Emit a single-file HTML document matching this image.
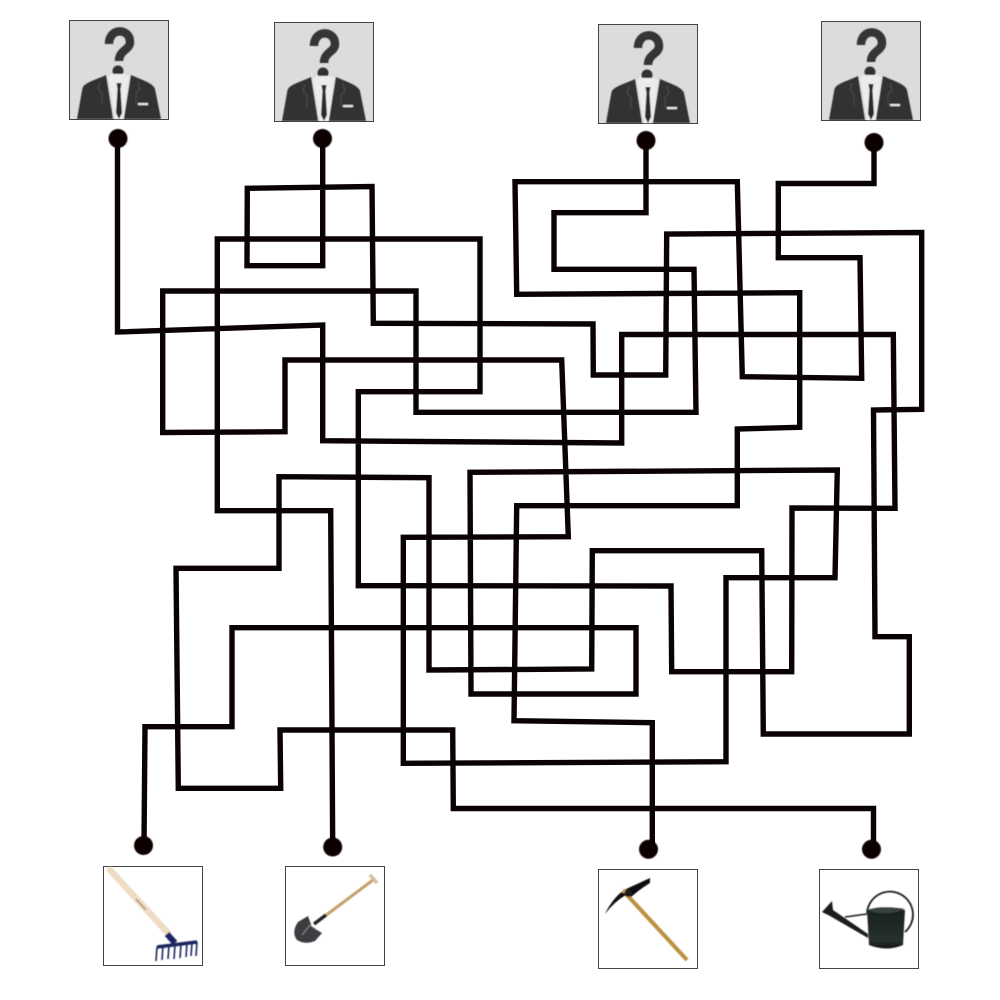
<!DOCTYPE html>
<html><head><meta charset="utf-8"><style>
html,body{margin:0;padding:0;background:#fff}
svg{display:block}
</style></head><body>
<svg width="1000" height="1000" viewBox="0 0 1000 1000" xmlns="http://www.w3.org/2000/svg">
<defs>
<filter id="b" x="-20%" y="-20%" width="140%" height="140%"><feGaussianBlur stdDeviation="0.6"/></filter>
<linearGradient id="can" x1="0" y1="0" x2="0" y2="1"><stop offset="0" stop-color="#1a2220"/><stop offset="0.8" stop-color="#27302d"/><stop offset="1" stop-color="#111"/></linearGradient>
<g id="person">
<rect x="0.500" y="0.500" width="99" height="99" fill="#dcdcdc" stroke="#444" stroke-width="1"/>
<g filter="url(#b)">
<path d="M40 24C40 7 61 8 61 22C61 30 50 30 50 41" fill="none" stroke="#363636" stroke-width="8.500"/>
<circle cx="49" cy="51" r="5.500" fill="#333"/>
<path d="M8 99L13.500 68C16 62 27 60 37 55L44 99Z M92 99L86 69C84 63 73 60 62 55L55 99Z" fill="#333"/>
<path d="M39 56L46 99L54 99L60 56L55 54L44 54Z" fill="#ececec"/>
<path d="M47.500 63L52.500 63L51.500 69L53 93L50 99L47 93L48.500 69Z" fill="#2a2a2a"/>
<rect x="69" y="83" width="10" height="2.200" fill="#e8e8e8"/>
<path d="M31 62L29 69L33 73L33 85M69 62L71 69L67 73L67 85" fill="none" stroke="#5c5c5c" stroke-width="0.600"/>
</g>
</g>
</defs>

<use href="#person" x="69" y="20"/>
<use href="#person" x="274" y="22"/>
<use href="#person" x="598" y="24"/>
<use href="#person" x="821" y="21"/>

<g fill="#fff" stroke="#444" stroke-width="1">
<rect x="103.500" y="866.500" width="99" height="99"/>
<rect x="285.500" y="866.500" width="99" height="99"/>
<rect x="598.500" y="869.500" width="99" height="99"/>
<rect x="819.500" y="869.500" width="99" height="99"/>
</g>

<!-- rake -->
<g filter="url(#b)">
<path d="M110 870L168 933" stroke="#efdcc4" stroke-width="6.500" stroke-linecap="round" fill="none"/>
<path d="M136 899L146 910" stroke="#a89278" stroke-width="1.500" fill="none"/>
<path d="M167 934L175 943" stroke="#1d2560" stroke-width="6" fill="none"/>
<path d="M157 947L197 942" stroke="#1d2560" stroke-width="3.500" fill="none"/>
<path d="M157 947L156 961M163 946L162 960M169 945L168 959M175 945L174 959M181 944L180 958M187 943L186 957M192 943L191 956M197 942L196 956" stroke="#1d2560" stroke-width="1.600" fill="none"/>
</g>
<!-- shovel -->
<g filter="url(#b)">
<path d="M325 916L373 880" stroke="#c4a06c" stroke-width="3" fill="none"/>
<path d="M370 875L377 883" stroke="#d6bd98" stroke-width="3.500" fill="none"/>
<path d="M314 924L326 915" stroke="#222" stroke-width="3.500" fill="none"/>
<path d="M298 922L308 916L312 927L322 933L315 941Q305 945 297 940Q291 932 298 922Z" fill="#3a3d40"/>
<path d="M302 935L310 925L317 930" stroke="#9a9a9a" stroke-width="0.800" fill="none"/>
</g>
<!-- pickaxe -->
<g filter="url(#b)">
<path d="M627 895L687 960" stroke="#bb9040" stroke-width="4" fill="none"/>
<path d="M605 914Q612 899 624 890Q637 884 650 878L650 883Q640 889 631 897L626 895Q615 901 605 914Z" fill="#111"/>
<circle cx="628" cy="893" r="3.800" fill="#1d1d1d"/>
<path d="M623 893L625 889" stroke="#c19a50" stroke-width="2.500" fill="none"/>
</g>
<!-- watering can -->
<g filter="url(#b)">
<path d="M867 913A23 23 0 1 1 905 932" fill="none" stroke="#1b1f1e" stroke-width="1.800"/>
<path d="M867 910L905 910L903 945Q887 952 869 945Z" fill="url(#can)"/>
<path d="M867 910Q880 905 905 909Q885 917 867 910Z" fill="#39423f"/>
<path d="M822 912L832 901L833 910L868 934L868 938L830 916Z" fill="#1b1f1e"/>
<path d="M845 917L867 914" stroke="#1b1f1e" stroke-width="1.500" fill="none"/>
</g>

<g fill="none" stroke="#0a0204" stroke-width="5.400" stroke-linejoin="miter">
<polyline points="117.500,138 117.500,332 322.700,325 322.700,440.700 621.700,443 621.700,334.500 893.300,334.500 895,508.300 792,508 791.700,671.700 671.700,671.700 671,586 358.300,585.700 358.300,391.700 480,391.700 480,239 217.300,239 217.300,510.700 330.700,510.700 332.700,847"/>
<polyline points="322.700,138 322.700,265.700 247,265.700 247.300,188.300 372,186.500 373.300,323.300 593,324 593.300,375 665.700,375 666.700,234 921.700,232.500 921.700,409.300 873.500,410 875,636.700 909.300,636.700 909.300,734 763.300,734 761.700,550.700 592.300,550.700 591.700,669 429,670 429,477.700 279,476.700 279,568.300 176,568.300 178.300,788.300 280.700,788.300 280,730 452.700,730 453.300,808.500 873.500,808.500 873.500,849"/>
<polyline points="646,140 646,212.700 554,212.700 554,269.300 694,269.300 696,412.300 416,412.300 416,291 162.700,291 162.700,432.500 285,431.700 285,360 561.700,360 568.300,536.700 403.300,537.300 403.300,763.300 726,761.700 726,577.700 835,577.700 837.300,470 470,472.300 471,694 636,694 636,627.700 232,627.700 232,726.700 145,726.700 144,845"/>
<polyline points="874,142 874,183.500 778.300,183.500 778.300,257.700 860,257.700 861.700,378.300 742.300,376.700 737.300,181.700 515,181.700 516.700,294.300 799.700,292.700 799.700,427.300 737.300,429 737.300,505.700 516.700,505.700 514,720.700 652.300,722.700 652.300,849"/>
</g>

<g fill="#0a0204" filter="url(#b)">
<circle cx="118" cy="138.500" r="9.500"/>
<circle cx="322.500" cy="138.500" r="9.500"/>
<circle cx="646" cy="140.500" r="9.500"/>
<circle cx="874" cy="142.500" r="9.500"/>
<circle cx="143.500" cy="845.500" r="9.500"/>
<circle cx="332.700" cy="847" r="9.500"/>
<circle cx="648.500" cy="849.300" r="9.500"/>
<circle cx="871.500" cy="849.300" r="9.500"/>
</g>
</svg>
</body></html>
